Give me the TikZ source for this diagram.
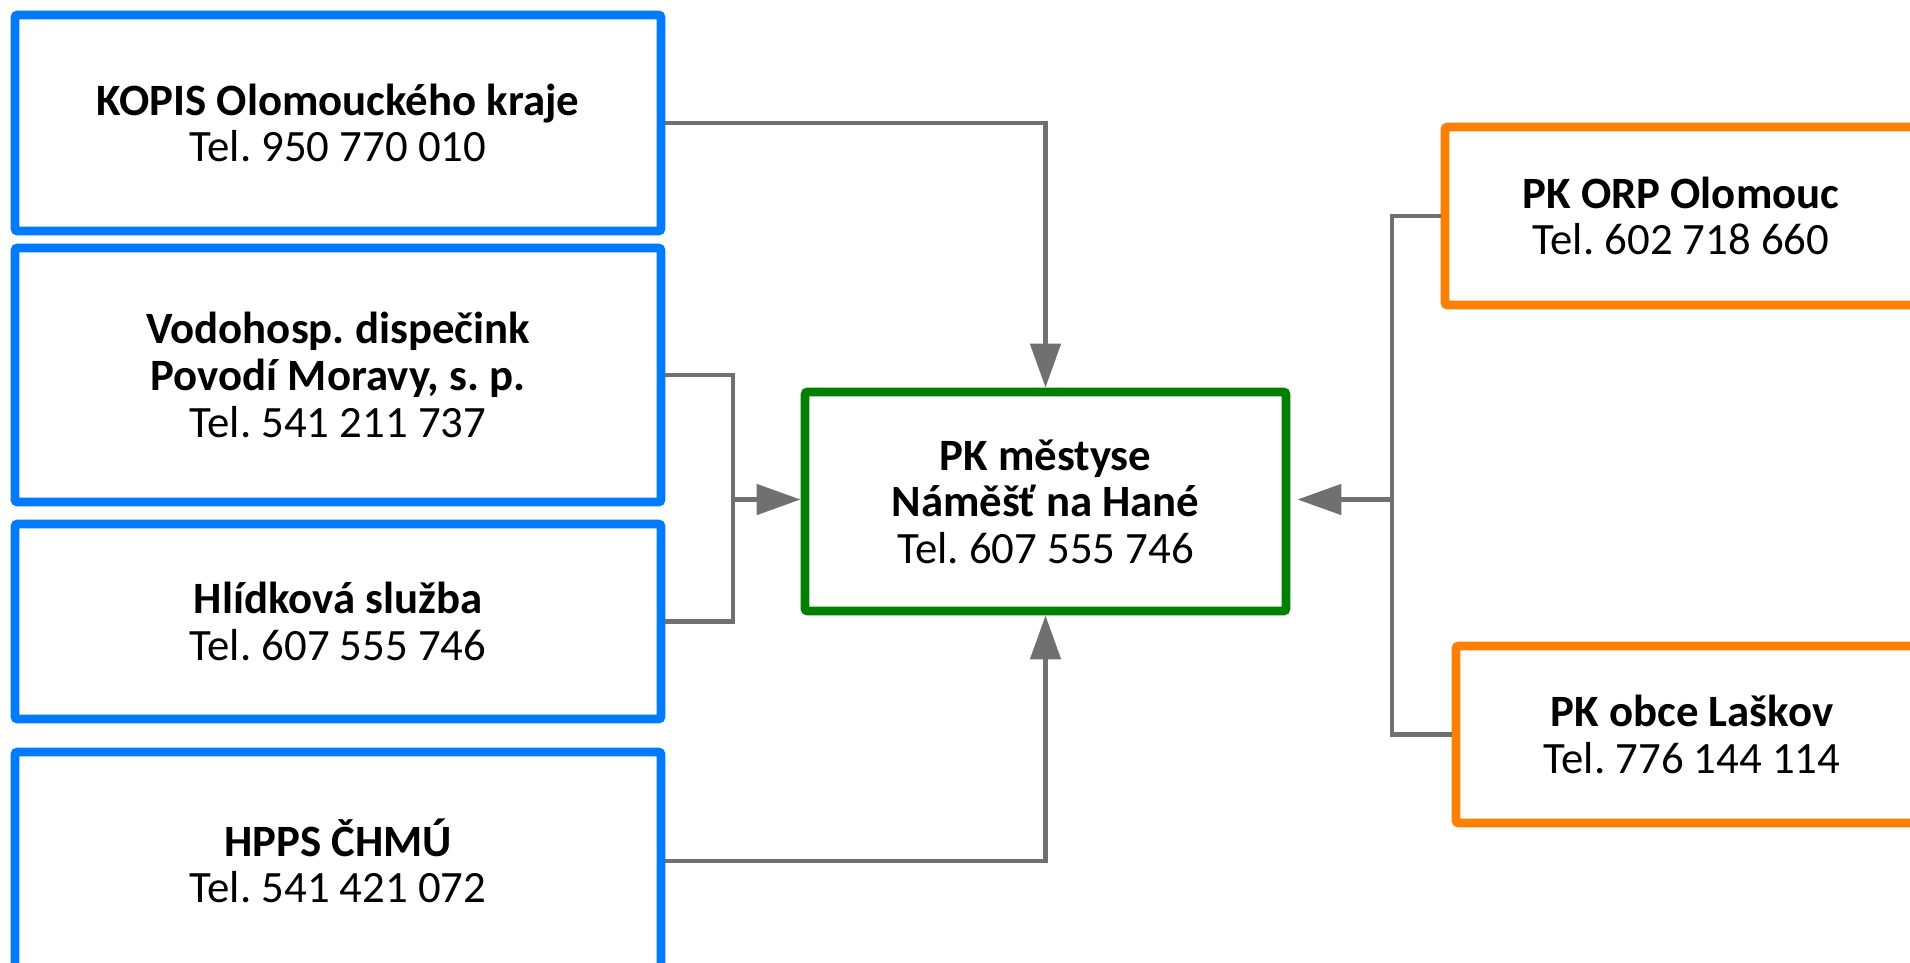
\documentclass[tikz,border=0pt]{standalone}
\usepackage{fontspec}
\setmainfont{Carlito}
\usetikzlibrary{arrows.meta}
\frenchspacing

\definecolor{boxblue}{RGB}{0,122,255}
\definecolor{boxgreen}{RGB}{0,128,0}
\definecolor{boxorange}{RGB}{255,128,0}
\definecolor{linegray}{RGB}{112,112,112}

\begin{document}
\begin{tikzpicture}[
    box/.style={draw, fill=white, line width=5pt, rounded corners=1.5pt, align=center, inner sep=0pt, font=\fontsize{25.5}{26.5}\selectfont},
    srcbox/.style={box, draw=boxblue, minimum width=12.92cm},
    mainbox/.style={box, draw=boxgreen, minimum width=9.62cm, minimum height=4.38cm},
    pkbox/.style={box, draw=boxorange, minimum width=9.44cm},
    conn/.style={draw=linegray, line width=2.8pt, >={Triangle[length=0.88cm,width=0.6cm]}}
  ]
  \path [use as bounding box, clip] (0,0) rectangle (38.2,-19.24);

  % sources on the left
  \node [srcbox, minimum height=4.32cm] (kopis) at (6.76,-2.46) {\textbf{KOPIS Olomouckého kraje}\\Tel. 950 770 010};
  \node [srcbox, minimum height=5.08cm] (vodo) at (6.76,-7.50) {\textbf{Vodohosp. dispečink}\\\textbf{Povodí Moravy, s. p.}\\Tel. 541 211 737};
  \node [srcbox, minimum height=3.90cm] (hlid) at (6.76,-12.43) {\textbf{Hlídková služba}\\Tel. 607 555 746};
  \node [srcbox, minimum height=4.36cm] (hpps) at (6.76,-17.22) {\textbf{HPPS ČHMÚ}\\Tel. 541 421 072};

  % the town
  \node [mainbox] (pk) at (20.91,-10.03) {\textbf{PK městyse}\\\textbf{Náměšť na Hané}\\Tel. 607 555 746};

  % neighbours on the right
  \node [pkbox, minimum height=3.56cm] (orp) at (33.62,-4.32) {\textbf{PK ORP Olomouc}\\Tel. 602 718 660};
  \node [pkbox, minimum height=3.54cm] (laskov) at (33.84,-14.69) {\textbf{PK obce Laškov}\\Tel. 776 144 114};

  \coordinate (lj) at (14.66,-9.99);
  \coordinate (rj) at (27.84,-9.99);

  \draw [conn, ->] (kopis.east) -| (pk.north);
  \draw [conn, ->] (hpps.east) -| (pk.south);
  \draw [conn] (vodo.east) -| (lj) |- (hlid.east);
  \draw [conn, ->] (lj) -- (lj -| pk.west);
  \draw [conn] (orp.west) -| (rj) |- (laskov.west);
  \draw [conn, ->, shorten >=0.14cm] (rj) -- (rj -| pk.east);
\end{tikzpicture}
\end{document}
